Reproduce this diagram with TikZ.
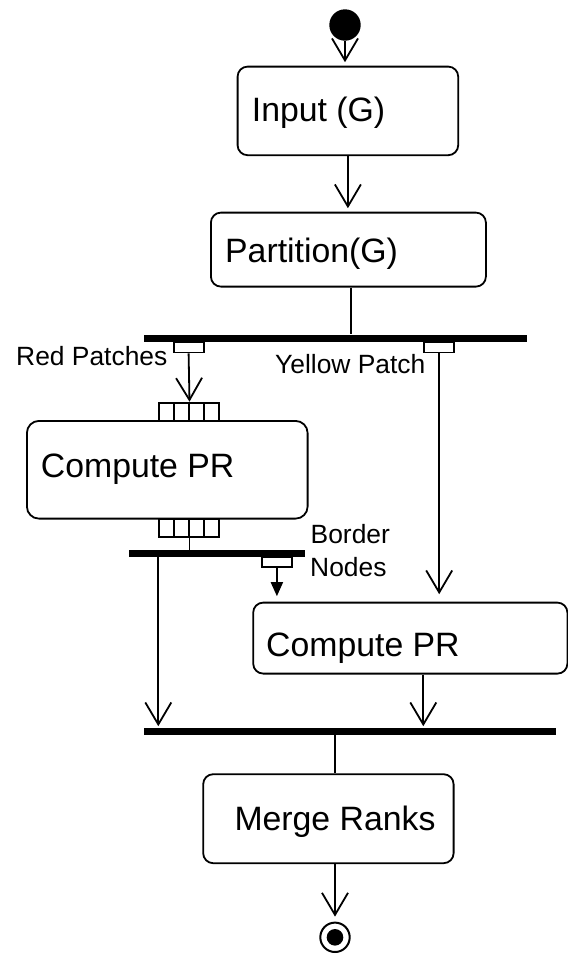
\documentclass[tikz,border=0pt]{standalone}
\usepackage{fontspec}
\setmainfont{Liberation Sans}
\usetikzlibrary{arrows.meta,calc}

\tikzset{
  actbox/.style={draw, line width=1.8pt, rounded corners=10pt, anchor=north west, inner sep=0pt},
  syncbar/.style={fill=black, draw=none, anchor=north west, inner sep=0pt},
  pinbox/.style={draw, fill=white, line width=1.8pt, anchor=north west, inner sep=0pt,
                 minimum width=30pt, minimum height=10pt},
  slot/.style={draw, fill=white, line width=1.8pt, anchor=north west, inner sep=0pt,
               minimum width=15pt, minimum height=18pt},
  bigtxt/.style={anchor=base west, inner sep=0pt, font=\fontsize{33.8}{40}\selectfont},
  smalltxt/.style={anchor=base west, inner sep=0pt, font=\fontsize{26.4}{32}\selectfont},
  flow/.style={line width=1.8pt, -{Straight Barb[length=22pt,width=26pt]}},
  plain/.style={line width=1.6pt},
  tokenflow/.style={line width=1.8pt, -{Triangle[length=14pt,width=12pt]}},
}

\begin{document}
\begin{tikzpicture}[x=1pt, y=-1pt]
\useasboundingbox (0,0) rectangle (568,954);

% start and end states
\node[circle, fill=black, inner sep=0pt, minimum size=31.4pt] (init) at (345,25) {};
\node[circle, draw, line width=2pt, inner sep=0pt, minimum size=29.4pt] (final) at (335,937.3) {};
\node[circle, fill=black, inner sep=0pt, minimum size=16.6pt] (finaldot) at (335,937.3) {};

% actions
\node[actbox, minimum width=220.6pt, minimum height=88.6pt] (input) at (236.7,65.7) {};
\node[actbox, minimum width=275pt, minimum height=74pt] (partition) at (210,211.7) {};
\node[actbox, rounded corners=12pt, minimum width=280.7pt, minimum height=97.7pt] (cpr1) at (26,420) {};
\node[actbox, minimum width=314.2pt, minimum height=71pt] (cpr2) at (252.3,601.7) {};
\node[actbox, minimum width=250.4pt, minimum height=89pt] (merge) at (202.3,773.3) {};

\node[bigtxt] (inputtxt) at (251.7,121.7) {Input (G)};
\node[bigtxt] (partitiontxt) at (225,262.3) {Partition(G)};
\node[bigtxt] (cpr1txt) at (40.7,477.3) {Compute PR};
\node[bigtxt] (cpr2txt) at (266,656) {Compute PR};
\node[bigtxt] (mergetxt) at (234.3,830.7) {Merge Ranks};

% fork / join bars
\node[syncbar, minimum width=383.2pt, minimum height=7.3pt] (fork1) at (143.5,334.3) {};
\node[syncbar, minimum width=176pt, minimum height=6.6pt] (fork2) at (129,549.7) {};
\node[syncbar, minimum width=412.7pt, minimum height=7.3pt] (join) at (143.3,727.7) {};

% output pins on the bars
\node[pinbox] (pinA) at (172.7,341.6) {};
\node[pinbox] (pinB) at (423.3,341.6) {};
\node[pinbox] (pinC) at (261,556.3) {};

% input and output slots of the first Compute PR
\node[slot, minimum height=18.3pt] (p1) at (157.7,401.7) {};
\node[slot, minimum height=18.3pt] (p2) at (172.7,401.7) {};
\node[slot, minimum height=18.3pt] (p3) at (187.7,401.7) {};
\node[slot, minimum height=18.3pt] (p4) at (202.7,401.7) {};
\node[slot] (q1) at (157.7,517.7) {};
\node[slot] (q2) at (172.7,517.7) {};
\node[slot] (q3) at (187.7,517.7) {};
\node[slot] (q4) at (202.7,517.7) {};

% labels
\node[smalltxt] (redtxt) at (16,365) {Red Patches};
\node[smalltxt] (yellowtxt) at (275,373.3) {Yellow Patch};
\node[smalltxt] (bordertxt) at (310.5,543.3) {Border};
\node[smalltxt] (nodestxt) at (310,576) {Nodes};

% flows
\draw[flow, shorten >=3.5pt] (init.south) -- (init.south |- input.north);
\draw[flow, shorten >=3.5pt] (input.south) -- (input.south |- partition.north);
\draw[plain] ([xshift=2.5pt]partition.south) -- ([xshift=2.5pt]partition.south |- fork1.north);
\draw[flow] (pinA.south) -- (p2.north east);
\draw[flow, shorten >=7.5pt] (pinB.south) -- (pinB.south |- cpr2.north);
\draw[plain] (q2.south east) -- (q2.south east |- fork2.north);
\draw[flow, shorten >=1.5pt] ([xshift=29.3pt]fork2.south west) -- ([xshift=29.3pt]fork2.south west |- join.north);
\draw[tokenflow, shorten >=5.5pt] (pinC.south) -- (pinC.south |- cpr2.north);
\draw[flow, shorten >=1.5pt] ([xshift=171pt]cpr2.south west) -- ([xshift=171pt]cpr2.south west |- join.north);
\draw[plain] (final |- join.south) -- (final |- merge.north);
\draw[flow, shorten >=5pt] (final |- merge.south) -- (final.north);
\end{tikzpicture}
\end{document}
